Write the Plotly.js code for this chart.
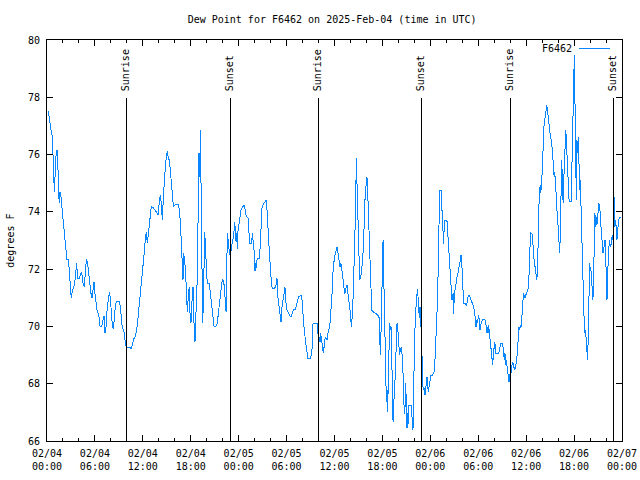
<!DOCTYPE html>
<html>
<head>
<meta charset="utf-8">
<script src="https://cdn.plot.ly/plotly-3.0.1.min.js"></script>
<style>html,body{margin:0;padding:0;background:#fff;}#chart{width:640px;height:480px;}
#chart .scatterlayer path, #chart .shapelayer path{shape-rendering:crispEdges;}</style>
</head>
<body>
<div id="chart"></div>
<script>
// ---- data: hours after 2025-02-04 00:00 UTC and dew point (deg F) ----
const startTime = '2025-02-04 00:00';
const endTime = '2025-02-07 00:00';
const seriesName = 'F6462';

const hoursDay1 = [0.17,0.33,0.50,0.67,0.75,0.88,0.92,1.09,1.17,1.25,
1.34,1.42,1.54,1.63,1.75,1.92,2.09,2.25,2.38,2.50,
2.67,2.80,2.92,3.05,3.17,3.34,3.51,3.63,3.71,3.84,
4.05,4.17,4.30,4.42,4.55,4.67,4.76,4.84,4.93,5.09,
5.22,5.38,5.51,5.63,5.76,5.89,6.01,6.14,6.26,6.39,
6.51,6.64,6.85,7.01,7.14,7.26,7.39,7.55,7.68,7.81,
7.93,8.06,8.18,8.31,8.43,8.56,8.68,9.02,9.18,9.31,
9.43,9.56,9.68,9.81,9.93,10.18,10.44,10.56,10.69,10.85,
11.02,11.14,11.31,11.44,11.56,11.69,11.81,11.94,12.06,12.19,
12.31,12.44,12.56,12.69,12.81,12.94,13.06,13.32,13.52,13.73,
13.94,14.07,14.19,14.32,14.44,14.57,14.69,14.82,14.94,15.07,
15.19,15.32,15.44,15.57,15.69,15.82,16.03,16.24,16.45,16.57,
16.70,16.82,16.95,17.03,17.11,17.24,17.36,17.49,17.57,17.70,
17.82];
const dewDay1 = [77.52,77.15,76.86,76.62,76.10,75.23,74.70,75.75,76.16,75.98,
76.16,74.76,74.30,74.70,74.53,74.00,73.48,73.02,72.55,72.32,
72.32,71.97,71.39,70.98,71.27,71.33,71.62,71.97,72.20,71.68,
71.68,71.79,71.91,71.73,71.44,71.39,71.79,72.08,72.35,72.20,
71.85,71.39,71.15,70.98,71.33,71.54,71.15,70.80,70.59,70.48,
70.34,70.01,70.01,70.22,70.36,69.76,69.99,70.69,70.98,71.19,
70.98,70.40,70.05,69.90,70.40,70.71,70.88,70.88,70.69,70.22,
69.93,69.90,69.76,69.43,69.29,69.27,69.27,69.20,69.41,69.56,
69.64,69.76,70.05,70.40,70.75,71.04,71.39,71.73,72.14,72.61,
73.07,73.31,72.90,73.19,73.48,73.95,74.18,74.14,74.06,73.95,
73.89,74.41,74.59,74.30,73.71,74.53,75.23,75.58,75.93,76.12,
75.87,75.81,75.46,75.05,74.68,74.20,74.24,74.27,74.25,74.06,
73.66,73.02,72.08,71.62,72.55,72.32,71.85,70.69,70.51,71.09,
71.39];

const hoursDay2 = [17.91,18.03,18.11,18.20,18.28,18.37,18.45,18.53,18.62,18.70,
18.78,18.87,18.95,19.03,19.12,19.20,19.28,19.37,19.41,19.49,
19.58,19.66,19.74,19.83,19.91,19.99,20.08,20.29,20.41,20.54,
20.66,20.79,20.92,21.17,21.33,21.45,21.58,21.70,21.83,21.96,
22.08,22.21,22.33,22.42,22.50,22.59,22.67,22.75,22.88,23.00,
23.12,23.25,23.37,23.50,23.58,23.67,23.75,23.83,23.92,24.04,
24.17,24.29,24.42,24.59,24.71,24.84,24.96,25.17,25.26,25.38,
25.50,25.63,25.71,25.80,25.92,26.05,26.13,26.21,26.30,26.46,
26.59,26.67,26.76,26.84,26.92,27.05,27.17,27.30,27.42,27.55,
27.63,27.75,27.88,28.01,28.13,28.26,28.51,28.67,28.80,28.93,
29.05,29.18,29.30,29.43,29.55,29.68,29.80,29.93,30.05,30.18,
30.30,30.43,30.60,30.72,30.85,31.10,31.26,31.39,31.51,31.68,
31.81,31.93,32.06,32.18,32.31,32.43,32.56,32.68,32.93,33.10,
33.22,33.31,33.52,33.73,33.85,33.93,34.02,34.10,34.19,34.27,
34.35,34.48,34.60,34.73,34.85,34.98,35.10,35.23,35.35,35.48,
35.60,35.69,35.77];
const dewDay2 = [70.45,70.11,70.69,71.15,71.39,70.34,69.97,69.46,70.22,70.69,
71.39,72.78,74.41,76.04,75.23,76.86,75.11,73.48,71.79,70.11,
70.80,72.32,73.31,72.90,71.97,71.85,71.50,71.50,71.27,70.92,
70.51,70.20,70.01,70.01,70.11,70.45,70.69,71.04,71.39,71.64,
71.60,71.39,70.86,70.51,71.97,73.25,73.02,72.67,72.49,72.55,
72.90,73.02,73.13,73.66,73.36,72.96,73.25,72.69,73.36,73.66,
73.83,74.06,74.14,74.21,74.24,74.00,73.83,73.80,73.33,72.88,
72.88,72.90,73.25,72.96,72.67,71.93,72.20,72.05,72.32,72.38,
72.38,72.67,73.13,73.66,74.12,74.24,74.30,74.35,74.41,74.06,
73.36,73.04,72.43,71.68,71.39,71.33,71.33,71.44,71.68,70.98,
70.63,70.34,70.16,70.69,70.92,71.15,71.36,70.80,70.57,70.51,
70.45,70.36,70.36,70.51,70.59,70.59,70.80,70.95,71.04,71.06,
71.09,70.92,70.34,69.99,69.64,69.29,69.09,68.88,68.88,69.00,
69.29,70.11,70.11,70.11,70.11,69.76,69.35,69.64,69.46,69.76,
69.52,69.35,69.06,69.52,69.64,69.58,69.52,69.87,69.93,70.22,
70.69,71.15,71.79];

const hoursDay3 = [35.85,35.98,36.11,36.19,36.31,36.44,36.56,36.69,36.81,36.94,
37.06,37.19,37.31,37.44,37.56,37.69,37.82,37.94,38.07,38.15,
38.23,38.36,38.44,38.57,38.65,38.73,38.82,38.90,38.99,39.07,
39.15,39.28,39.40,39.53,39.65,39.78,39.86,39.99,40.07,40.15,
40.28,40.40,40.49,40.57,40.65,40.82,40.99,41.20,41.41,41.57,
41.66,41.74,41.83,41.91,41.99,42.08,42.16,42.24,42.33,42.41,
42.49,42.58,42.66,42.75,42.83,42.91,43.00,43.08,43.16,43.25,
43.33,43.41,43.50,43.58,43.66,43.75,43.83,43.91,44.00,44.08,
44.16,44.25,44.33,44.41,44.50,44.58,44.66,44.75,44.83,44.91,
45.00,45.08,45.16,45.25,45.33,45.58,45.67,45.75,45.83,45.87,
45.96,46.04,46.12,46.21,46.29,46.37,46.46,46.54,46.62,46.71,
46.79,46.92,47.00,47.08,47.17,47.25,47.33,47.42,47.50,47.58,
47.67,47.75,47.83,47.92,48.00,48.08,48.25,48.38,48.50,48.58,
48.67,48.79,48.92,49.00,49.09,49.17,49.34,49.42,49.51,49.59,
49.67,49.76,49.92,50.09,50.21,50.34,50.46,50.59,50.71,50.84,
50.92,51.00,51.13,51.25,51.38,51.50,51.63,51.75,51.84,51.96,
52.09,52.17,52.34,52.51,52.63,52.72,52.84,52.96,53.09,53.21,
53.34,53.46,53.59,53.67];
const dewDay3 = [72.08,72.38,72.55,72.67,72.78,72.55,72.20,72.08,72.20,71.97,
71.68,71.33,71.15,71.33,71.44,71.15,70.92,70.57,70.16,69.99,
70.51,71.15,72.08,73.02,74.18,75.87,75.11,73.71,73.02,72.32,
71.64,71.71,71.97,72.32,73.02,73.89,74.76,74.99,75.20,74.76,
73.89,72.78,72.08,71.33,70.57,70.51,70.48,70.45,70.40,70.34,
69.70,69.00,69.87,71.04,72.32,73.02,71.85,70.80,69.12,67.89,
67.37,67.78,67.02,68.36,69.52,70.11,69.87,69.99,69.06,67.43,
66.67,67.43,67.54,68.13,68.94,69.52,70.11,69.87,69.76,69.29,
69.00,69.23,69.12,69.29,68.94,68.36,67.54,66.96,67.19,68.01,
67.25,66.44,66.96,66.61,67.25,67.25,66.96,66.67,66.38,67.31,
69.12,69.52,70.34,70.69,70.92,71.29,71.04,70.69,70.28,70.69,
70.34,69.29,68.24,67.89,67.78,67.84,67.60,67.78,68.01,68.24,
67.89,67.72,67.89,68.07,68.24,68.28,68.30,68.36,68.42,68.82,
69.46,70.34,71.04,72.32,73.48,74.74,74.74,74.30,73.71,73.31,
72.88,73.71,73.71,73.66,73.13,72.32,71.68,71.21,70.92,71.15,
70.45,71.09,71.39,71.62,71.79,71.91,72.08,72.32,72.49,72.08,
71.27,70.80,70.80,70.75,70.86,71.04,71.09,71.04,70.92,70.86,
70.75,70.63,70.45,70.22];

const hoursDay4 = [53.72,53.80,53.88,53.97,54.05,54.13,54.22,54.30,54.39,54.51,
54.64,54.80,54.89,54.97,55.05,55.14,55.22,55.30,55.39,55.47,
55.55,55.64,55.72,55.81,55.89,55.97,56.06,56.14,56.22,56.39,
56.56,56.68,56.81,57.06,57.18,57.27,57.35,57.43,57.52,57.60,
57.68,57.77,57.85,57.93,58.02,58.10,58.19,58.27,58.35,58.44,
58.52,58.60,58.69,58.77,58.85,58.94,59.02,59.10,59.19,59.27,
59.36,59.44,59.52,59.61,59.69,59.82,59.94,60.07,60.19,60.32,
60.40,60.49,60.57,60.70,60.82,60.90,60.99,61.07,61.15,61.24,
61.32,61.41,61.49,61.57,61.66,61.74,61.82,61.91,61.99,62.07,
62.16,62.24,62.33,62.41,62.49,62.58,62.66,62.74,62.83,62.91,
62.99,63.08,63.16,63.24,63.33,63.41,63.50,63.58,63.66,63.75,
63.83,63.91,64.04,64.12,64.21,64.29,64.38,64.46,64.54,64.63,
64.71,64.79,64.88,64.96,65.05,65.13,65.21,65.30,65.38,65.51,
65.63,65.71,65.80,65.88,65.97,66.03,66.11,66.20,66.28,66.36,
66.45,66.53,66.61,66.70,66.78,66.86,66.95,67.03,67.11,67.20,
67.28,67.36,67.45,67.53,67.61,67.70,67.78,67.86,67.95,68.03,
68.11,68.20,68.28,68.36,68.45,68.53,68.61,68.70,68.78,68.86,
68.95,69.03,69.11,69.20,69.28,69.37,69.45,69.53,69.62,69.70,
69.78,69.87,69.95,70.04,70.12,70.20,70.29,70.37,70.45,70.54,
70.62,70.70,70.79,70.87,70.96,71.04,71.12,71.21,71.29,71.37,
71.46,71.54,71.63,71.83];
const dewDay4 = [69.99,70.22,70.11,70.34,70.40,70.22,69.87,70.05,70.16,70.22,
70.24,70.22,70.22,70.05,69.76,69.99,69.76,70.05,69.81,69.35,
69.17,69.12,68.82,68.65,69.00,69.23,69.46,69.29,69.06,69.06,
69.06,69.23,69.41,69.41,69.17,68.82,69.06,68.65,68.82,68.53,
68.36,68.24,68.07,68.24,68.42,68.36,68.65,68.77,68.71,68.59,
68.48,68.59,68.53,68.82,68.94,69.29,69.76,69.99,69.87,70.05,
69.99,70.11,70.69,71.04,71.15,70.98,71.09,71.15,71.33,71.39,
72.32,73.13,73.27,73.25,73.13,72.55,72.32,72.08,71.85,71.79,
71.62,71.85,73.02,74.12,74.88,74.65,74.94,74.76,75.34,76.27,
76.68,77.03,77.21,77.44,77.61,77.73,77.56,77.32,77.09,76.92,
76.74,76.62,76.51,76.27,75.93,75.58,75.23,75.40,75.11,74.82,
74.30,73.66,73.48,72.90,72.55,73.60,75.58,75.81,74.99,74.30,
75.11,75.87,76.51,76.86,76.39,75.93,75.34,74.76,74.35,74.35,
74.35,75.34,76.51,78.25,79.07,79.48,77.90,75.93,74.41,76.51,
76.04,76.62,75.58,74.76,75.11,74.30,73.36,72.43,71.56,70.34,
69.99,69.76,69.87,69.41,69.06,68.82,69.76,70.92,72.20,71.97,
71.97,71.62,71.27,70.92,71.85,72.90,73.95,73.48,73.83,73.54,
74.00,74.06,74.30,74.12,73.95,73.48,73.25,73.02,72.55,72.67,
72.90,73.02,72.55,71.85,70.92,71.85,72.67,72.78,73.02,72.78,
72.84,73.02,73.19,73.02,74.76,74.30,73.48,73.71,73.36,73.02,
73.36,73.66,73.77,73.83];

// sunrise / sunset markers (hours after start)
const eventHours = [9.93, 22.96, 33.98, 46.87, 57.98, 70.90];
const eventLabels = ['Sunrise', 'Sunset', 'Sunrise', 'Sunset', 'Sunrise', 'Sunset'];

// ---- build ----
const t0 = Date.UTC(2025, 1, 4, 0, 0, 0);
function toTime(h) {
  return new Date(t0 + Math.round(h * 3600000)).toISOString().slice(0, 19).replace('T', ' ');
}
const hours = hoursDay1.concat(hoursDay2, hoursDay3, hoursDay4);
const dew = dewDay1.concat(dewDay2, dewDay3, dewDay4);
const times = hours.map(toTime);

const FONT = 'DejaVu Sans Mono, monospace';
const LINECOL = '#0a87ff';

const trace = {
  type: 'scatter', mode: 'lines', name: seriesName,
  x: times, y: dew,
  line: {color: LINECOL, width: 1},
  showlegend: false, hoverinfo: 'skip'
};

const shapes = [];
const annotations = [];
eventHours.forEach((h, i) => {
  const t = toTime(h);
  shapes.push({type: 'line', xref: 'x', yref: 'paper', x0: t, x1: t, y0: 0, y1: 0.855,
               line: {color: '#000', width: 1}});
  annotations.push({xref: 'x', yref: 'paper', x: t, y: 0.868, xanchor: 'center', yanchor: 'bottom',
                    text: eventLabels[i], textangle: -90, showarrow: false,
                    font: {family: FONT, size: 10, color: '#000'}});
});
// y axis title
annotations.push({xref: 'paper', yref: 'paper', x: -0.064, y: 0.5, xanchor: 'center', yanchor: 'middle',
                  text: 'degrees F', textangle: -90, showarrow: false,
                  font: {family: FONT, size: 10, color: '#000'}});
// legend (gnuplot style: label then sample line)
annotations.push({xref: 'paper', yref: 'paper', x: 0.917, y: 0.98, xanchor: 'right', yanchor: 'middle',
                  text: seriesName, showarrow: false, font: {family: FONT, size: 10, color: '#000'}});
shapes.push({type: 'line', xref: 'paper', yref: 'paper', x0: 0.925, x1: 0.979, y0: 0.98, y1: 0.98,
             line: {color: LINECOL, width: 1}});

const axisCommon = {
  showline: true, linecolor: '#000', linewidth: 1, mirror: 'ticks',
  ticks: 'inside', ticklen: 6, tickwidth: 1, tickcolor: '#000',
  showgrid: false, zeroline: false,
  tickfont: {family: FONT, size: 10, color: '#000'}
};

const layout = {
  width: 640, height: 480,
  margin: {l: 47, r: 18, t: 40, b: 39, pad: 0},
  paper_bgcolor: '#fff', plot_bgcolor: '#fff',
  title: {text: 'Dew Point for F6462 on 2025-Feb-04 (time in UTC)',
          font: {family: FONT, size: 10, color: '#000'},
          xref: 'container', x: 0.519, xanchor: 'center',
          yref: 'container', y: 0.96, yanchor: 'middle'},
  xaxis: Object.assign({}, axisCommon, {
    type: 'date', range: [startTime, endTime],
    tick0: startTime, dtick: 6 * 3600000, tickformat: '%m/%d<br>%H:%M',
    ticklabelstandoff: 3,
    minor: {tick0: startTime, dtick: 2 * 3600000, ticks: 'inside', ticklen: 3, tickcolor: '#000', showgrid: false}
  }),
  yaxis: Object.assign({}, axisCommon, {
    range: [66, 80], dtick: 2, tick0: 66, ticklabelstandoff: 4
  }),
  shapes: shapes,
  annotations: annotations,
  showlegend: false
};

Plotly.newPlot('chart', [trace], layout, {displayModeBar: false, staticPlot: true});
</script>
</body>
</html>
